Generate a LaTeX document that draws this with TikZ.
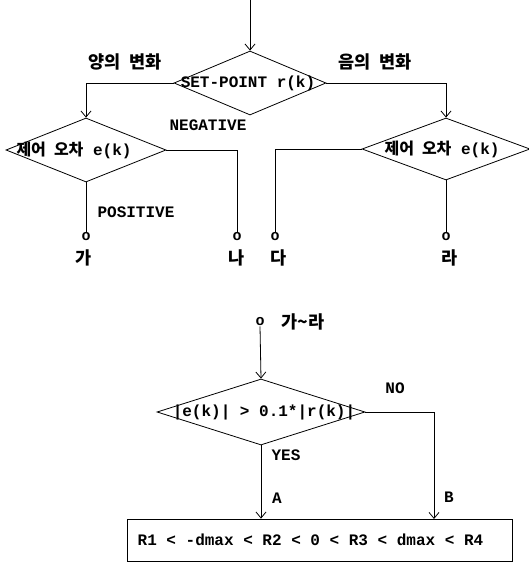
\documentclass[tikz,border=0pt]{standalone}
\usepackage{fontspec}
\setmainfont{Liberation Mono}
\newfontfamily\kofont{Noto Sans CJK KR}[WordSpace=2.2]
\usetikzlibrary{arrows.meta,shapes.geometric}
\newcommand{\ko}[1]{{\kofont\bfseries #1}}

\begin{document}
\begin{tikzpicture}[x=1pt, y=-1pt,
  decision/.style={draw, diamond, line width=0.8pt, inner sep=0pt},
  txt/.style={font=\bfseries\fontsize{16}{18}\selectfont, inner sep=1pt},
  kor/.style={font=\kofont\bfseries\fontsize{17.5}{19}\selectfont, inner sep=1pt},
  term/.style={font=\bfseries\fontsize{15}{17}\selectfont, inner sep=0pt},
  arrow/.style={-{Straight Barb[length=6pt,width=10pt]}, line width=0.8pt},
  line/.style={line width=0.8pt}
]
\useasboundingbox (0,0) rectangle (529,562);
% first stage: set-point and error sign
\coordinate (start) at (250,0);
\node[decision, minimum width=152pt, minimum height=64pt,
  label={[txt, xshift=-2pt]center:SET-POINT r(k)}] (setpt) at (250,83) {};
\node[decision, minimum width=160pt, minimum height=64pt,
  label={[txt, xshift=-12pt]center:\ko{제어 오차} e(k)}] (err1) at (86,150) {};
\node[decision, minimum width=168pt, minimum height=62pt,
  label={[txt, xshift=-4pt]center:\ko{제어 오차} e(k)}] (err2) at (446,149) {};
\node[kor] (pos) at (125,62) {양의 변화};
\node[kor] (neg) at (375,62) {음의 변화};
\node[txt] (negtxt) at (208,125) {NEGATIVE};
\node[txt] (postxt) at (136,212) {POSITIVE};
\node[term] (o1) at (86,237) {o};
\node[term] (o2) at (237,237) {o};
\node[term] (o3) at (275,237) {o};
\node[term] (o4) at (446,237) {o};
\node[kor] (ga) at (84,258) {가};
\node[kor] (na) at (237,258) {나};
\node[kor] (da) at (279,258) {다};
\node[kor] (ra) at (450,258) {라};
\draw[arrow] (start) -- (setpt.north);
\draw[arrow] (setpt.west) -| (err1.north);
\draw[arrow] (setpt.east) -| (err2.north);
\draw[line] (err1.south) -- (o1.north);
\draw[line] (err1.east) -| (o2.north);
\draw[line] (err2.west) -| (o3.north);
\draw[line] (err2.south) -- (o4.north);
% second stage: size of the error
\node[term] (o5) at (260,322) {o};
\node[kor] (gara) at (303,322) {가\textasciitilde 라};
\node[decision, minimum width=208pt, minimum height=66pt,
  label={[txt, xshift=3pt]center:|e(k)| > 0.1*|r(k)|}] (cmp) at (261,412) {};
\node[txt] (no) at (395,388) {NO};
\node[txt] (yes) at (286,455) {YES};
\node[txt] (a) at (277,498) {A};
\node[txt] (b) at (449,497) {B};
\node[draw, line, minimum width=385pt, minimum height=42pt, inner sep=0pt,
  label={[txt, xshift=-9pt]center:R1 < -dmax < R2 < 0 < R3 < dmax < R4}] (rules) at (319.5,540) {};
\coordinate (bin) at (434,519);
\draw[arrow] (o5.south) -- (cmp.north);
\draw[arrow] (cmp.south) -- (cmp.south |- rules.north);
\draw[arrow] (cmp.east) -| (bin);
\end{tikzpicture}
\end{document}
